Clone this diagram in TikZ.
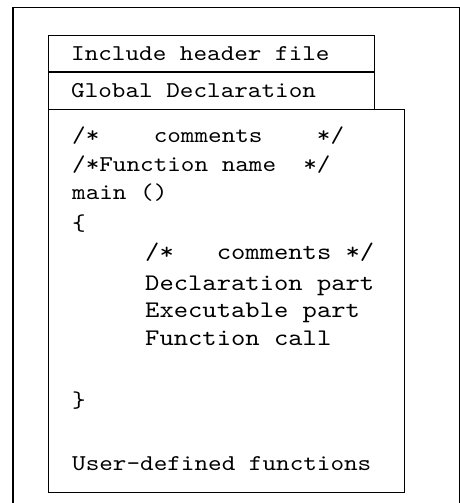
\documentclass[tikz,border=0pt]{standalone}
\usepackage{fontspec}
\newfontfamily\codefont{lmmono10-regular.otf}[FakeStretch=1.146]
\usetikzlibrary{positioning}

\begin{document}
\begin{tikzpicture}[x=1pt,y=-1pt,
    frame/.style={draw,line width=1.1pt},
    part/.style={draw,line width=0.8pt,rectangle,anchor=north west,inner sep=0pt},
    code/.style={anchor=base west,inner sep=0pt,font=\codefont\fontsize{22.6}{27}\selectfont},
    codewide/.style={code,font=\codefont\fontsize{23.8}{27}\selectfont}]
  \useasboundingbox (0,0) rectangle (460,503);
  % outer frame, open at the bottom
  \coordinate (fbl) at (13,503);
  \coordinate (ftl) at (13,7.3);
  \coordinate (ftr) at (459.3,7.3);
  \coordinate (fbr) at (459.3,503);
  \draw[frame] (fbl) -- (ftl) -- (ftr) -- (fbr);
  % the three parts of the program
  \node[part,minimum width=326.6pt,minimum height=36.3pt] (hdr) at (47.7,34.7) {};
  \node[part,minimum width=326.6pt,minimum height=36.7pt] (glob) at (hdr.south west) {};
  \node[part,minimum width=356.6pt,minimum height=382.3pt] (body) at (glob.south west) {};
  \node[code] (hdrtxt) at (71,61) {Include header file};
  \node[code] (globtxt) at (71,97.5) {Global Declaration};
  \foreach \x/\y/\t [count=\i] in {
      72/142.5/{/*~~~~comments~~~~*/},
      72/171/{/*Function name~~*/},
      72/199.5/{main ()},
      72/230/{\{}}
    \node[code] (ln\i) at (\x,\y) {\t};
  \foreach \y/\t [count=\i] in {
      259.5/{/*~~~comments~*/},
      290/{Declaration part},
      317.5/{Executable part},
      345.5/{Function call}}
    \node[codewide] (in\i) at (145,\y) {\t};
  \node[code] (close) at (72,407) {\}};
  \node[code] (user) at (72,470.5) {User-defined functions};
\end{tikzpicture}
\end{document}
